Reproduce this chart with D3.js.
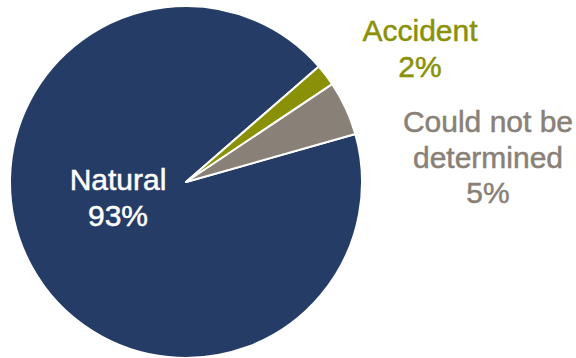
<!DOCTYPE html>
<html>
<head>
<meta charset="utf-8">
<script src="https://cdn.jsdelivr.net/npm/d3@7"></script>
<style>
  body { margin: 0; background: #fff; }
  svg text { font-family: "Liberation Sans", Arial, sans-serif; font-size: 30px; }
</style>
</head>
<body>
<div id="chart"></div>
<script>
// data
const categories = ["Natural", "Accident", "Could not be determined"];
const shares = [93, 2, 5];
const colors = ["#253d66", "#8a9106", "#898077"];

const width = 576, height = 358;
const cx = 186, cy = 182, radius = 176;

const svg = d3.select("#chart").append("svg")
  .attr("width", width)
  .attr("height", height);

const g = svg.append("g")
  .attr("transform", "translate(" + cx + "," + cy + ")");

const pie = d3.pie()
  .sort(null)
  .value(d => d.value)
  .startAngle(74.2 * Math.PI / 180)
  .endAngle(74.2 * Math.PI / 180 + 2 * Math.PI);

const arc = d3.arc().innerRadius(0).outerRadius(radius);

const data = categories.map((c, i) => ({name: c, value: shares[i], color: colors[i]}));

g.selectAll("path")
  .data(pie(data))
  .join("path")
  .attr("d", arc)
  .attr("fill", d => d.data.color)
  .attr("stroke", "#fff")
  .attr("stroke-width", 2)
  .attr("stroke-linejoin", "round");

// labels
const labels = [
  {lines: ["Natural", shares[0] + "%"], x: 118, y: 190, fill: "#fff"},
  {lines: ["Accident", shares[1] + "%"], x: 420, y: 41, fill: colors[1]},
  {lines: ["Could not be", "determined", shares[2] + "%"], x: 488, y: 132, fill: colors[2]}
];

labels.forEach(l => {
  const t = svg.append("text")
    .attr("text-anchor", "middle")
    .attr("fill", l.fill)
    .attr("stroke", l.fill)
    .attr("stroke-width", 0.5);
  l.lines.forEach((s, i) => {
    t.append("tspan")
      .attr("x", l.x)
      .attr("y", l.y + i * 35.5)
      .text(s);
  });
});
</script>
</body>
</html>
